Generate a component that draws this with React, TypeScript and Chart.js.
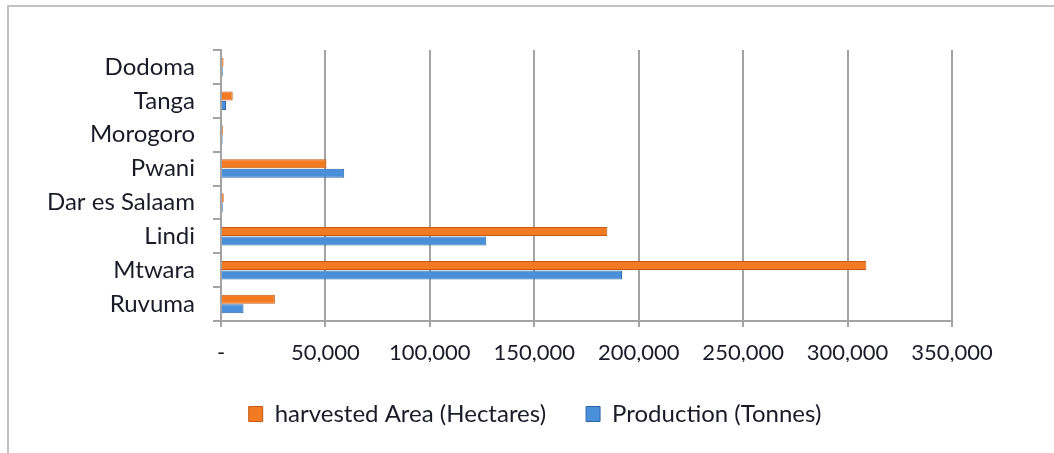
import React, { useEffect, useRef } from "react";
import { Chart, registerables } from "chart.js";

Chart.register(...registerables);

const categories = ["Dodoma", "Tanga", "Morogoro", "Pwani", "Dar es Salaam", "Lindi", "Mtwara", "Ruvuma"];
const harvestedArea = [1200, 5600, 1000, 50500, 1300, 185000, 309000, 25800];
const production = [900, 2400, 800, 59000, 900, 127000, 192000, 10800];
const seriesNames = ["harvested Area (Hectares)", "Production (Tonnes)"];
const xMax = 350000;
const xStep = 50000;

const FONT = "Lato, 'Open Sans', sans-serif";
const TEXT = "#1b1b28";
const GRID = "#a3a3a3";

const shiftLegend = {
  id: "shiftLegend",
  afterLayout(chart: any) {
    const lg = chart.legend;
    if (lg) {
      lg.left += 38;
      lg.right += 38;
    }
  },
};

export default function App() {
  const ref = useRef<HTMLCanvasElement | null>(null);

  useEffect(() => {
    if (!ref.current) return;
    const chart = new Chart(ref.current, {
      type: "bar",
      data: {
        labels: categories,
        datasets: [
          {
            label: seriesNames[0],
            data: harvestedArea,
            backgroundColor: "#f27a22",
            borderColor: "#c65a14",
            borderWidth: 1,
            categoryPercentage: 0.56,
            barPercentage: 0.95,
          },
          {
            label: seriesNames[1],
            data: production,
            backgroundColor: "#4a8fda",
            borderColor: "#2d67a8",
            borderWidth: 1,
            categoryPercentage: 0.56,
            barPercentage: 0.95,
          },
        ],
      },
      options: {
        indexAxis: "y",
        animation: false,
        responsive: false,
        layout: { padding: { left: 42, right: 102, top: 50, bottom: 17 } },
        scales: {
          x: {
            min: 0,
            max: xMax,
            ticks: {
              stepSize: xStep,
              color: TEXT,
              font: { family: FONT, size: 22 },
              padding: 13,
              maxRotation: 0,
              callback: (v: any) => (Number(v) === 0 ? "-" : Number(v).toLocaleString("en-US")),
            },
            grid: { color: GRID, lineWidth: 2, tickLength: 6, drawTicks: true },
            border: { display: true, color: GRID, width: 2 },
            afterFit: (s: any) => {
              s.height = 41;
            },
          },
          y: {
            ticks: {
              color: TEXT,
              font: { family: FONT, size: 24 },
              padding: 18,
            },
            grid: { display: true, drawOnChartArea: false, drawTicks: true, tickLength: 8, color: GRID, lineWidth: 2, offset: true },
            border: { display: true, color: GRID, width: 2 },
            afterFit: (s: any) => {
              s.width = 179;
            },
          },
        },
        plugins: {
          legend: {
            position: "bottom",
            labels: {
              color: TEXT,
              font: { family: FONT, size: 24 },
              boxWidth: 14,
              boxHeight: 15,
              padding: 40,
            },
          },
          tooltip: { enabled: false },
        },
      },
      plugins: [shiftLegend],
    });
    return () => chart.destroy();
  }, []);

  return (
    <div style={{ position: "absolute", left: 0, top: 0, width: 1054, height: 453, background: "#fff", overflow: "hidden" }}>
      <div style={{ position: "absolute", left: 7, top: 5, width: 1100, height: 500, borderTop: "2px solid #c2c2c2", borderLeft: "2px solid #c2c2c2" }} />
      <canvas ref={ref} width={1054} height={453} style={{ position: "absolute", left: 0, top: 0 }} />
    </div>
  );
}
